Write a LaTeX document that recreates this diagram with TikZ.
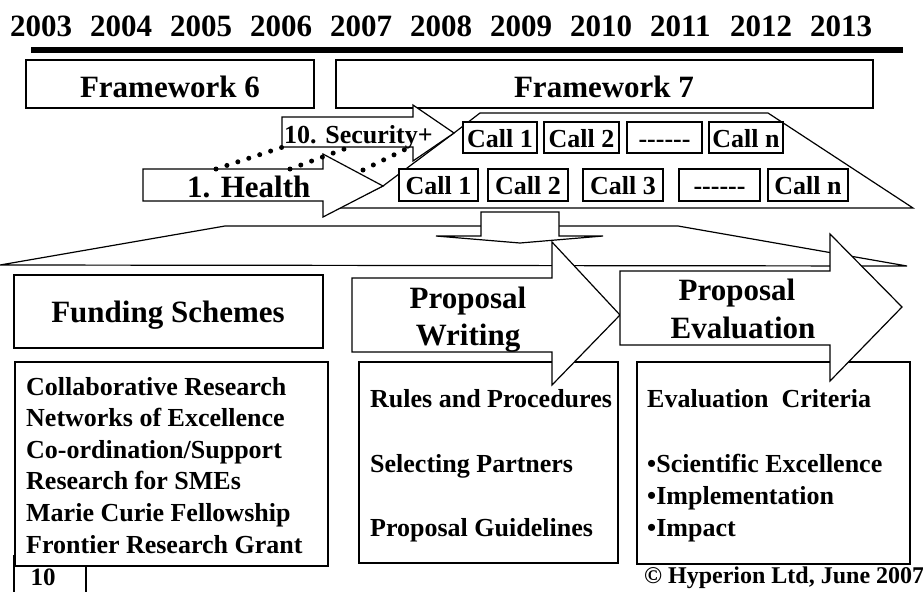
\documentclass[tikz,border=0pt]{standalone}
\usepackage{fontspec}
\setmainfont{Liberation Serif}
\tikzset{
  box/.style={draw, line width=1.2pt, fill=white},
  shp/.style={draw, line width=1.2pt, fill=white, line join=miter},
  big/.style={font=\fontsize{31}{37}\selectfont\bfseries, inner sep=0pt},
  med/.style={font=\fontsize{26}{32}\selectfont\bfseries, inner sep=0pt},
  sml/.style={font=\fontsize{24}{29}\selectfont\bfseries, inner sep=0pt},
  dotline/.style={line width=5pt, dash pattern=on 0pt off 11.5pt, line cap=round},
}
\newcommand\hyphrow{-\kern0pt-\kern0pt-\kern0pt-\kern0pt-\kern0pt-}
\begin{document}
\begin{tikzpicture}[x=1pt,y=-1pt]
\useasboundingbox (0,0) rectangle (923,592);
% years
\foreach \yr [count=\i from 0] in {2003,2004,2005,2006,2007,2008,2009,2010,2011,2012,2013}
  \node[big, anchor=base west] (yr\i) at (10+80*\i,36) {\yr};
\coordinate (tlA) at (31,50);
\coordinate (tlB) at (903,50);
\draw[line width=6pt] (tlA) -- (tlB);
% frameworks
\draw[box] (26,60) rectangle (314,108);
\node[big, anchor=base] (fw6) at (170,97) {Framework 6};
\draw[box] (336,60) rectangle (873,108);
\node[big, anchor=base] (fw7) at (604,97) {Framework 7};
% call trapezoid
\draw[shp] (383,186) -- (454,133) -- (480,113) -- (768,113) -- (913,208) -- (338,208) -- cycle;
% security arrow
\draw[shp] (282,117) -- (413,117) -- (413,105) -- (454,133) -- (413,161) -- (413,147) -- (282,147) -- cycle;
\node[med, anchor=base west] (sec) at (284,143) {10. Security+};
% health arrow
\draw[shp] (143,169) -- (323,169) -- (323,154) -- (383,186) -- (323,217) -- (323,201) -- (143,201) -- cycle;
\node[big, anchor=base west] (hea) at (187,197) {1. Health};
% dotted lines
\draw[dotline] (216,169) -- (283,147);
\draw[dotline] (290,169) -- (347,148);
\draw[dotline] (363,170) -- (408,148);
% calls row 1
\foreach \xa/\xb/\t [count=\i] in {463/537/Call 1, 544/619/Call 2, 627/702/\hyphrow, 709/783/Call n}{
  \draw[box] (\xa,122) rectangle (\xb,153);
  \node[med, anchor=base] (ca\i) at ({(\xa+\xb)/2},147) {\t};
}
% calls row 2
\foreach \xa/\xb/\t [count=\i] in {399/478/Call 1, 488/568/Call 2, 583/663/Call 3, 679/760/\hyphrow, 768/848/Call n}{
  \draw[box] (\xa,169) rectangle (\xb,201);
  \node[med, anchor=base] (cb\i) at ({(\xa+\xb)/2},194) {\t};
}
% funnel
\draw[shp] (0,265) -- (225,226) -- (678,226) -- (907,266) -- cycle;
% down arrow
\draw[shp] (481,212) -- (559,212) -- (559,236) -- (603,236) -- (520,243) -- (436,236) -- (481,236) -- cycle;
% funding schemes
\draw[box] (14,275) rectangle (323,348);
\node[big, anchor=base] (fund) at (168,322) {Funding Schemes};
% bottom boxes
\draw[box] (15,362) rectangle (328,566);
\draw[box] (359,362) rectangle (618,563);
\draw[box] (637,362) rectangle (910,564);
% writing arrow
\draw[shp] (352,278) -- (552,278) -- (552,242) -- (620,315) -- (552,385) -- (552,352) -- (352,352) -- cycle;
\node[big, anchor=base] (pw1) at (468,308) {Proposal};
\node[big, anchor=base] (pw2) at (468,345) {Writing};
% evaluation arrow
\draw[shp] (620,271) -- (830,271) -- (830,234) -- (902,307) -- (830,381) -- (830,345) -- (620,345) -- cycle;
\node[big, anchor=base] (pe1) at (737,300) {Proposal};
\node[big, anchor=base] (pe2) at (743,338) {Evaluation};
% funding list
\foreach \t [count=\i from 0] in {Collaborative Research, Networks of Excellence, Co-ordination/Support, Research for SMEs, Marie Curie Fellowship, Frontier Research Grant}
  \node[med, anchor=base west] (fl\i) at (26,395+31.6*\i) {\t};
% writing list
\node[med, anchor=base west] (wl1) at (370,407) {Rules and Procedures};
\node[med, anchor=base west] (wl2) at (370,472) {Selecting Partners};
\node[med, anchor=base west] (wl3) at (370,536) {Proposal Guidelines};
% evaluation list
\node[med, anchor=base west] (el1) at (647,407) {Evaluation\ \ Criteria};
\node[med, anchor=base west] (el2) at (647,472) {•Scientific Excellence};
\node[med, anchor=base west] (el3) at (647,504) {•Implementation};
\node[med, anchor=base west] (el4) at (647,536) {•Impact};
% page number
\coordinate (pnA) at (14,555);
\coordinate (pnB) at (14,592);
\coordinate (pnC) at (86,567);
\coordinate (pnD) at (86,592);
\draw[line width=1.2pt] (pnA) -- (pnB);
\draw[line width=1.2pt] (pnC) -- (pnD);
\node[font=\fontsize{25}{30}\selectfont\bfseries, inner sep=0pt, anchor=base] (pnum) at (43,585) {10};
% copyright
\node[sml, anchor=base west] (copy) at (644,583) {© Hyperion Ltd, June 2007};
\end{tikzpicture}
\end{document}
